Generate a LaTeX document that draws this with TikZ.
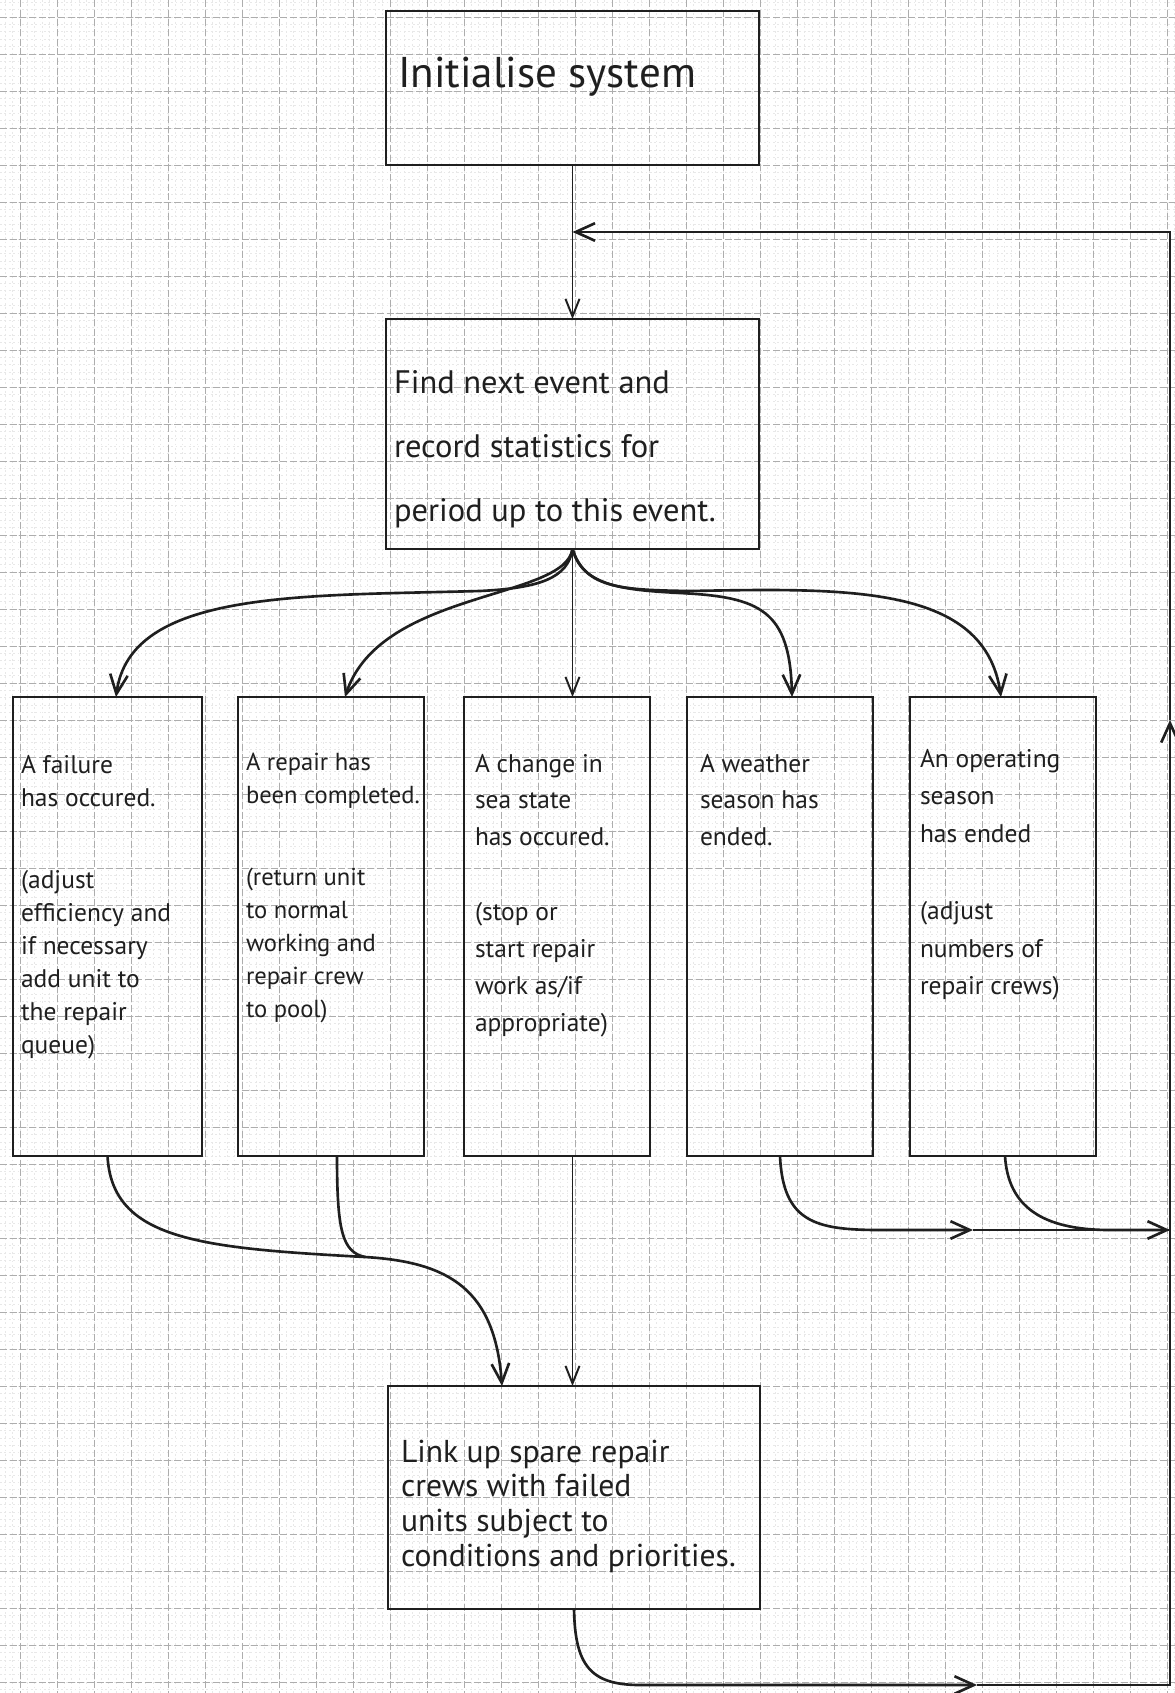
\documentclass[tikz,border=0pt]{standalone}
\usepackage{fontspec}
\setmainfont{PT Sans}
\usetikzlibrary{arrows.meta,calc}
\begin{document}
\begin{tikzpicture}[x=0.02cm,y=-0.02cm,
  box/.style={draw=black!88, line width=1.6pt, rectangle, inner sep=0pt, outer sep=0pt},
  txt/.style={anchor=base west, inner sep=0pt, outer sep=0pt, text=black!88},
  conn/.style={draw=black!88, line width=1.5pt, -{Straight Barb[length=11pt,width=10pt]}},
  thinconn/.style={draw=black!88, line width=1.1pt, -{Straight Barb[length=10pt,width=8pt]}},
  plain/.style={draw=black!88, line width=1.5pt},
  gmaj/.style={draw=black!32, line width=0.5pt, dash pattern=on 4pt off 1.5pt},
  gmin/.style={draw=black!9, line width=0.35pt, dash pattern=on 1pt off 1.5pt},
]
\useasboundingbox (0,0) rectangle (1175,1693);
\fill[white] (0,0) rectangle (1175,1693);
% graph paper
\foreach \i in {0,...,158} \draw[gmin] ({5.2+7.4*\i},0) -- ({5.2+7.4*\i},1693);
\foreach \i in {0,...,228} \draw[gmin] (0,{2.2+7.4*\i}) -- (1175,{2.2+7.4*\i});
\foreach \i in {0,...,31} \draw[gmaj] ({20+37*\i},0) -- ({20+37*\i},1693);
\foreach \i in {0,...,45} \draw[gmaj] (0,{17+37*\i}) -- (1175,{17+37*\i});

% boxes
\node[box, minimum width=7.46cm, minimum height=3.08cm] (init) at (572.5,88) {};
\node[box, minimum width=7.46cm, minimum height=4.6cm] (find) at (572.5,434) {};
\node[box, minimum width=3.78cm, minimum height=9.18cm] (b1) at (107.5,926.5) {};
\node[box, minimum width=3.72cm, minimum height=9.18cm] (b2) at (331,926.5) {};
\node[box, minimum width=3.72cm, minimum height=9.18cm] (b3) at (557,926.5) {};
\node[box, minimum width=3.72cm, minimum height=9.18cm] (b4) at (780,926.5) {};
\node[box, minimum width=3.72cm, minimum height=9.18cm] (b5) at (1003,926.5) {};
\node[box, minimum width=7.44cm, minimum height=4.46cm] (link) at (574,1497.5) {};

% texts
\node[txt, font=\fontsize{24.5}{28}\selectfont] (tinit) at (398,88) {Initialise system};
\node[txt, font=\fontsize{18.5}{36.7}\selectfont] (tfind) at (394,393)
  {\parbox[t]{7.6cm}{\raggedright Find next event and\\ record statistics for\\ period up to this event.}};
\node[txt, font=\fontsize{14.5}{18.8}\selectfont] (t1) at (21,773)
  {\parbox[t]{4cm}{\raggedright A failure\\ has occured.\\[0.98cm] (adjust\\ efficiency and\\ if necessary\\ add unit to\\ the repair\\ queue)}};
\node[txt, font=\fontsize{14}{18.8}\selectfont] (t2) at (246,770)
  {\parbox[t]{4cm}{\raggedright A repair has\\ been completed.\\[0.98cm] (return unit\\ to normal\\ working and\\ repair crew\\ to pool)}};
\node[txt, font=\fontsize{14.5}{21}\selectfont] (t3) at (475,772)
  {\parbox[t]{4cm}{\raggedright A change in\\ sea state\\ has occured.\\[0.76cm] (stop or\\ start repair\\ work as/if\\ appropriate)}};
\node[txt, font=\fontsize{14.5}{21}\selectfont] (t4) at (700,772)
  {\parbox[t]{4cm}{\raggedright A weather\\ season has\\ ended.}};
\node[txt, font=\fontsize{14.5}{21.5}\selectfont] (t5) at (920,767)
  {\parbox[t]{4cm}{\raggedright An operating\\ season\\ has ended\\[0.78cm] (adjust\\ numbers of\\ repair crews)}};
\node[txt, font=\fontsize{18}{19.9}\selectfont] (tlink) at (401,1462)
  {\parbox[t]{7.4cm}{\raggedright Link up spare repair\\ crews with failed\\ units subject to\\ conditions and priorities.}};

% free points of the loop
\coordinate (tj) at (572.5,232);
\coordinate (lt) at (1170,232);
\coordinate (rm) at (1170,720);
\coordinate (rj) at (1170,1230);
\coordinate (m4) at (973,1230);
\coordinate (lb) at (1170,1685);
\coordinate (bm) at (977,1685);
\coordinate (mj) at (365,1257);

% top
\draw[thinconn] (init.south) -- (find.north);

% fan-out
\draw[conn] (find.south) .. controls (568,578) and (540,588) .. (480,591)
   .. controls (300,596) and (130,590) .. ($(b1.north)+(8.5,0)$);
\draw[conn] (find.south) .. controls (565,600) and (380,590) .. ($(b2.north)+(14,0)$);
\draw[thinconn] (find.south) -- (find.south |- b3.north);
\draw[conn] (find.south) .. controls (582,585) and (620,590) .. (680,593)
   .. controls (760,597) and (790,610) .. ($(b4.north)+(12,0)$);
\draw[conn] (find.south) .. controls (585,588) and (620,590) .. (690,591)
   .. controls (850,588) and (985,585) .. ($(b5.north)+(-2,0)$);

% into link box
\draw[conn] (b1.south) .. controls (112,1240) and (200,1248) .. (mj)
   .. controls (450,1262) and (495,1290) .. ($(link.north)+(-72,0)$);
\draw[plain] ($(b2.south)+(6,0)$) .. controls (337,1230) and (342,1252) .. (mj);
\draw[thinconn] (find.south |- b3.south) -- (find.south |- link.north);

% to the right-hand return line
\draw[conn] (b4.south) .. controls (783,1222) and (815,1230) .. (880,1230) -- (m4);
\draw[plain] (m4) -- (rj);
\draw[conn] ($(b5.south)+(2,0)$) .. controls (1008,1205) and (1040,1230) .. (1110,1230) -- (rj);

% return loop
\draw[conn] (link.south) .. controls (575,1665) and (590,1685) .. (640,1685) -- (bm);
\draw[conn, line join=miter] (bm) -- (lb) -- (rm);
\draw[conn, line join=miter] (rm) -- (lt) -- (tj);
\end{tikzpicture}
\end{document}
